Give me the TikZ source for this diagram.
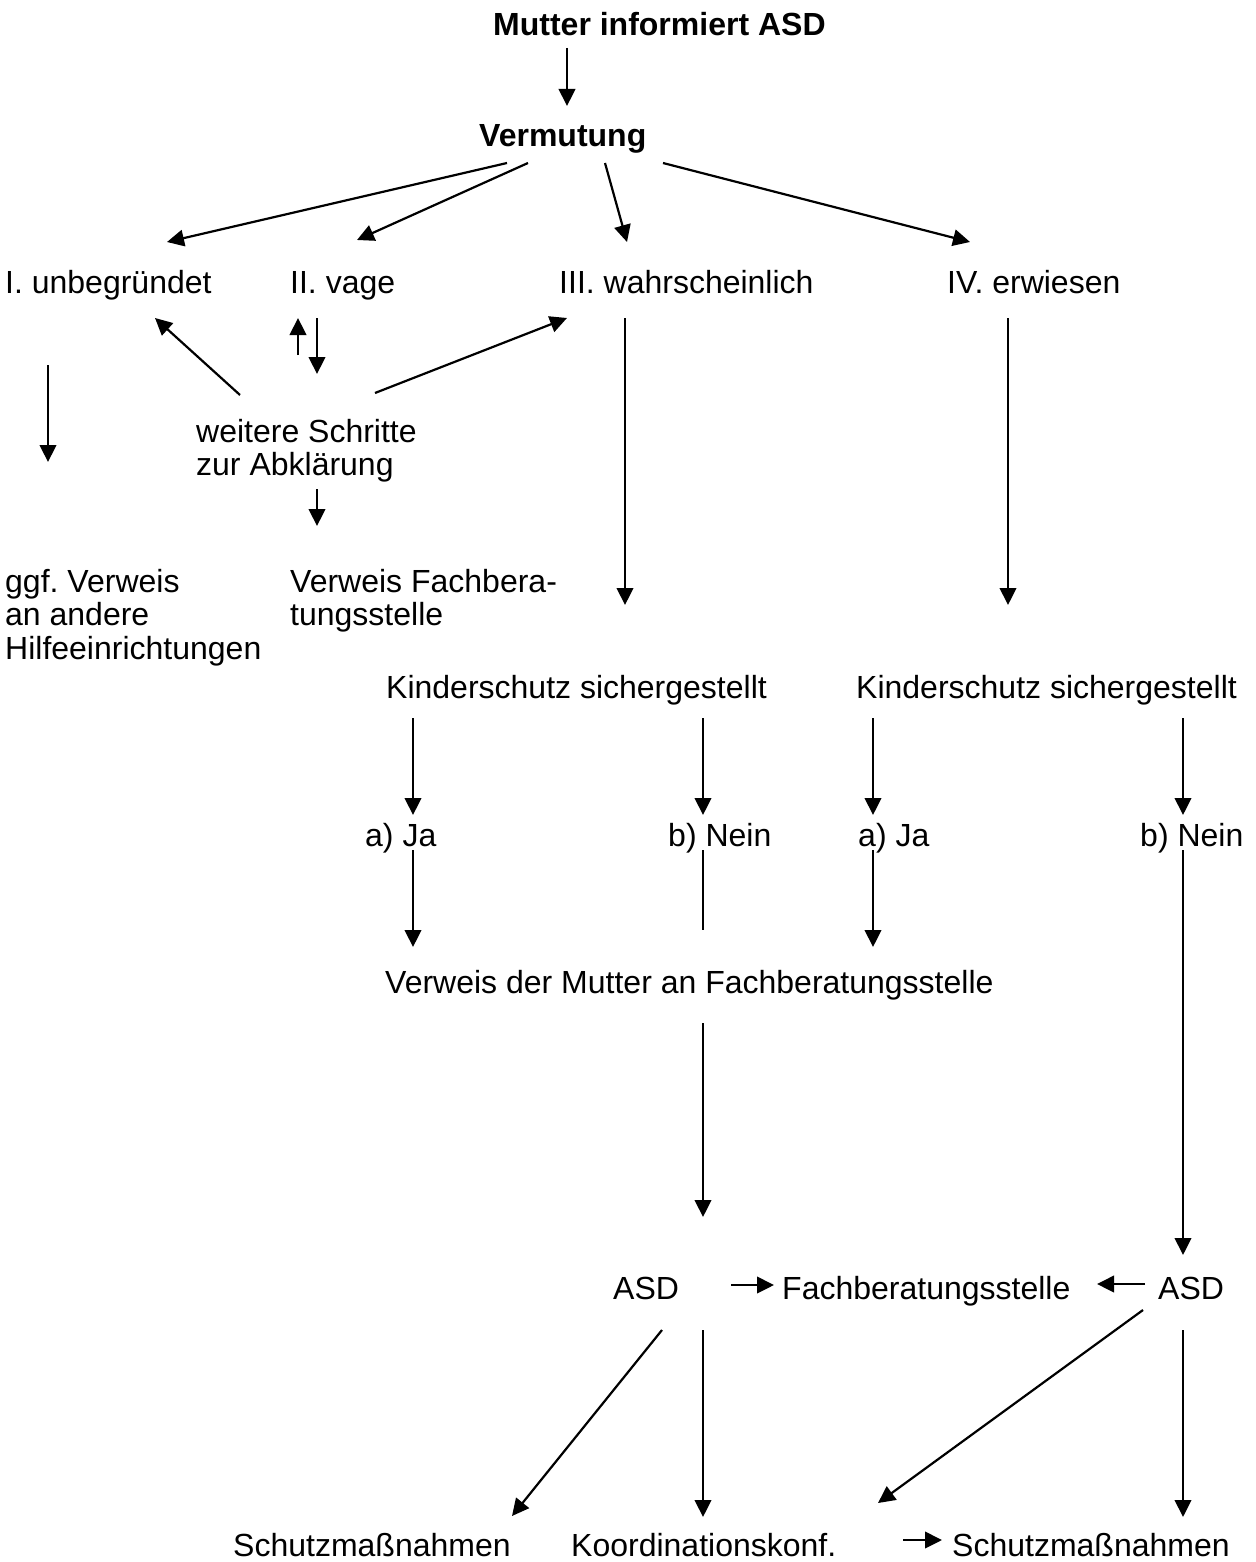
\documentclass[tikz,border=0pt]{standalone}
\usepackage{fontspec}
\setmainfont{Liberation Sans}
\usetikzlibrary{arrows.meta}
\frenchspacing
\newcommand{\fsz}{\fontsize{32}{33.5}\selectfont}
\tikzset{
  lbl/.style={font=\fsz, inner sep=0pt, anchor=base west},
  blbl/.style={font=\fsz\bfseries, inner sep=0pt, anchor=base west},
  mlbl/.style={font=\fsz, inner sep=0pt, anchor=north west, align=left},
  arr/.style={-{Triangle[width=16.5pt,length=17pt]}, line width=2.2pt},
  ln/.style={line width=2.2pt}
}
\begin{document}
\begin{tikzpicture}[x=1pt,y=-1pt]
\path[use as bounding box] (0,0) rectangle (1255,1562);
% texts
\node[blbl] (mut) at (493,36) {Mutter informiert ASD};
\node[blbl] (verm) at (479,147) {Vermutung};
\node[lbl] (I) at (5,293) {I. unbegründet};
\node[lbl] (II) at (290,293) {II. vage};
\node[lbl] (III) at (559,293) {III. wahrscheinlich};
\node[lbl] (IV) at (947,293) {IV. erwiesen};
\node[mlbl] (ws) at (196,417) {\rule{0pt}{25pt}weitere Schritte\\zur Abklärung};
\node[mlbl] (ggf) at (5,567) {\rule{0pt}{25pt}ggf. Verweis\\an andere\\Hilfeeinrichtungen};
\node[mlbl] (vfb) at (290,567) {\rule{0pt}{25pt}Verweis Fachbera-\\tungsstelle};
\node[lbl] (ks1) at (386,698) {Kinderschutz sichergestellt};
\node[lbl] (ks2) at (856,698) {Kinderschutz sichergestellt};
\node[lbl] (ja1) at (365,846) {a) Ja};
\node[lbl] (nein1) at (668,846) {b) Nein};
\node[lbl] (ja2) at (858,846) {a) Ja};
\node[lbl] (nein2) at (1140,846) {b) Nein};
\node[lbl] (vdm) at (385,993) {Verweis der Mutter an Fachberatungsstelle};
\node[lbl] (asd1) at (613,1299) {ASD};
\node[lbl] (fbs) at (782,1299) {Fachberatungsstelle};
\node[lbl] (asd2) at (1158,1299) {ASD};
\node[lbl] (sm1) at (233,1556) {Schutzmaßnahmen};
\node[lbl] (kk) at (571,1556) {Koordinationskonf.};
\node[lbl] (sm2) at (952,1556) {Schutzmaßnahmen};
% connector end points
\coordinate (m-s) at (567,48);   \coordinate (v-n) at (567,106);
\coordinate (v1) at (507,163);   \coordinate (I-n) at (167,242);
\coordinate (v2) at (528,163);   \coordinate (II-n) at (357,240);
\coordinate (v3) at (605,163);   \coordinate (III-n) at (627,242);
\coordinate (v4) at (663,163);   \coordinate (IV-n) at (970,242);
\coordinate (up-s) at (298,355); \coordinate (up-e) at (298,318);
\coordinate (dn-s) at (317,318); \coordinate (dn-e) at (317,374);
\coordinate (ws-l) at (240,395); \coordinate (I-se) at (155,318);
\coordinate (ws-r) at (375,393); \coordinate (III-sw) at (567,318);
\coordinate (ws-s) at (317,489); \coordinate (vfb-n) at (317,526);
\coordinate (I-s) at (48,365);   \coordinate (ggf-n) at (48,462);
\coordinate (III-s) at (625,318); \coordinate (ks1-n) at (625,605);
\coordinate (IV-s) at (1008,318); \coordinate (ks2-n) at (1008,605);
\coordinate (k1a) at (413,718);  \coordinate (ja1-n) at (413,815);
\coordinate (k1b) at (703,718);  \coordinate (nein1-n) at (703,815);
\coordinate (k2a) at (873,718);  \coordinate (ja2-n) at (873,815);
\coordinate (k2b) at (1183,718); \coordinate (nein2-n) at (1183,815);
\coordinate (ja1-s) at (413,850);   \coordinate (vdm-a) at (413,947);
\coordinate (nein1-s) at (703,850); \coordinate (nein1-e) at (703,930);
\coordinate (ja2-s) at (873,850);   \coordinate (vdm-b) at (873,947);
\coordinate (nein2-s) at (1183,850); \coordinate (asd2-n) at (1183,1255);
\coordinate (vdm-s) at (703,1023);  \coordinate (asd1-n) at (703,1217);
\coordinate (asd1-e) at (731,1285); \coordinate (fbs-w) at (774,1285);
\coordinate (asd2-w) at (1145,1284); \coordinate (fbs-e) at (1097,1284);
\coordinate (asd1-sw) at (662,1330); \coordinate (sm1-n) at (512,1516);
\coordinate (asd1-s) at (703,1330);  \coordinate (kk-n) at (703,1517);
\coordinate (asd2-sw) at (1143,1310); \coordinate (kk-ne) at (878,1503);
\coordinate (asd2-s) at (1183,1330); \coordinate (sm2-n) at (1183,1517);
\coordinate (kk-e) at (903,1540);    \coordinate (sm2-w) at (942,1540);
% connectors
\draw[arr] (m-s) -- (v-n);
\draw[arr] (v1) -- (I-n);
\draw[arr] (v2) -- (II-n);
\draw[arr] (v3) -- (III-n);
\draw[arr] (v4) -- (IV-n);
\draw[arr] (up-s) -- (up-e);
\draw[arr] (dn-s) -- (dn-e);
\draw[arr] (ws-l) -- (I-se);
\draw[arr] (ws-r) -- (III-sw);
\draw[arr] (ws-s) -- (vfb-n);
\draw[arr] (I-s) -- (ggf-n);
\draw[arr] (III-s) -- (ks1-n);
\draw[arr] (IV-s) -- (ks2-n);
\draw[arr] (k1a) -- (ja1-n);
\draw[arr] (k1b) -- (nein1-n);
\draw[arr] (k2a) -- (ja2-n);
\draw[arr] (k2b) -- (nein2-n);
\draw[arr] (ja1-s) -- (vdm-a);
\draw[ln] (nein1-s) -- (nein1-e);
\draw[arr] (ja2-s) -- (vdm-b);
\draw[arr] (nein2-s) -- (asd2-n);
\draw[arr] (vdm-s) -- (asd1-n);
\draw[arr] (asd1-e) -- (fbs-w);
\draw[arr] (asd2-w) -- (fbs-e);
\draw[arr] (asd1-sw) -- (sm1-n);
\draw[arr] (asd1-s) -- (kk-n);
\draw[arr] (asd2-sw) -- (kk-ne);
\draw[arr] (asd2-s) -- (sm2-n);
\draw[arr] (kk-e) -- (sm2-w);
\end{tikzpicture}
\end{document}
